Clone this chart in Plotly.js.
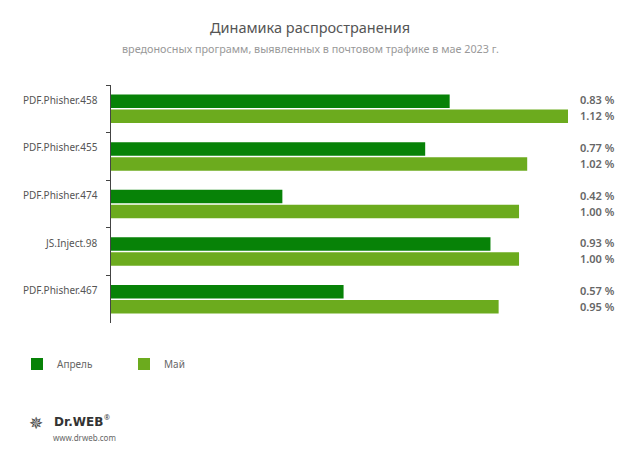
<!DOCTYPE html>
<html><head><meta charset="utf-8">
<script src="https://cdn.plot.ly/plotly-3.0.1.min.js"></script>
<style>body{margin:0;background:#fff}#chart{width:620px;height:456px}</style>
</head><body><div id="chart"></div>
<script>
const categories = ["PDF.Phisher.458","PDF.Phisher.455","PDF.Phisher.474","JS.Inject.98","PDF.Phisher.467"];
const april = [0.83,0.77,0.42,0.93,0.57];
const may = [1.12,1.02,1.00,1.00,0.95];
const seriesNames = ["Апрель","Май"];
const colors = ["#078207","#6cab1e"];
const fnt = "Noto Sans, Open Sans, sans-serif";
const H = 238; // plot height px

const traces = [
  {type:"bar",orientation:"h",name:seriesNames[0],y:categories,x:april,marker:{color:colors[0]},hoverinfo:"none"},
  {type:"bar",orientation:"h",name:seriesNames[1],y:categories,x:may,marker:{color:colors[1]},hoverinfo:"none"}
];
const ann = [];
categories.forEach((c,i)=>{
  ann.push({xref:"paper",yref:"y",x:-0.024,y:c,yshift:9,text:c,showarrow:false,xanchor:"right",yanchor:"middle",font:{family:fnt,size:10,color:"#555"}});
  ann.push({xref:"paper",yref:"y",x:1.022,y:c,yshift:9,text:april[i].toFixed(2)+" %",showarrow:false,xanchor:"left",yanchor:"middle",font:{family:fnt,size:11,color:"#666",weight:600}});
  ann.push({xref:"paper",yref:"y",x:1.022,y:c,yshift:-7,text:may[i].toFixed(2)+" %",showarrow:false,xanchor:"left",yanchor:"middle",font:{family:fnt,size:11,color:"#666",weight:600}});
});
ann.push({xref:"paper",yref:"paper",x:(52-111)/457,y:(323-422)/H,text:"<b>Dr.WEB</b>",showarrow:false,xanchor:"left",yanchor:"middle",font:{family:"DejaVu Sans, sans-serif",size:12,color:"#333"}});
ann.push({xref:"paper",yref:"paper",x:(102-111)/457,y:(323-417)/H,text:"®",showarrow:false,xanchor:"left",yanchor:"middle",font:{family:fnt,size:7,color:"#333"}});
ann.push({xref:"paper",yref:"paper",x:(51-111)/457,y:(323-437)/H,text:"www.drweb.com",showarrow:false,xanchor:"left",yanchor:"middle",font:{family:fnt,size:8,color:"#666"}});
ann.push({xref:"paper",yref:"paper",x:(27-111)/457,y:(323-423)/H,text:"✵",showarrow:false,xanchor:"left",yanchor:"middle",font:{family:"DejaVu Sans, sans-serif",size:17,color:"#444"}});
ann.push({xref:"paper",yref:"paper",x:(310-111)/457,y:(323-48)/H,text:"вредоносных программ, выявленных в почтовом трафике в мае 2023 г.",showarrow:false,xanchor:"center",yanchor:"middle",font:{family:fnt,size:10.8,color:"#999"}});

const layout = {
  width:620,height:456,
  paper_bgcolor:"#fff",plot_bgcolor:"#fff",
  margin:{l:111,r:52,t:85,b:133},
  title:{text:"Динамика распространения",x:0.5,xref:"container",xanchor:"center",y:1-28/456,yanchor:"middle",font:{family:fnt,size:14.5,color:"#555"}},
  barmode:"group",bargap:0.37,bargroupgap:0.1,
  xaxis:{range:[0,1.12],visible:false,fixedrange:true},
  yaxis:{type:"category",autorange:"reversed",showline:true,linecolor:"#444",linewidth:1,
    ticks:"outside",ticklen:4,tickcolor:"#444",tickson:"boundaries",showticklabels:false,
    showgrid:false,zeroline:false,fixedrange:true},
  showlegend:true,
  legend:{orientation:"h",x:(17-111)/457,xanchor:"left",y:(323-364)/H,yanchor:"middle",
    entrywidth:62,entrywidthmode:"pixels",font:{family:fnt,size:10,color:"#666"},traceorder:"normal",itemclick:false},
  annotations:ann
};
Plotly.newPlot("chart",traces,layout,{staticPlot:true});
</script></body></html>
